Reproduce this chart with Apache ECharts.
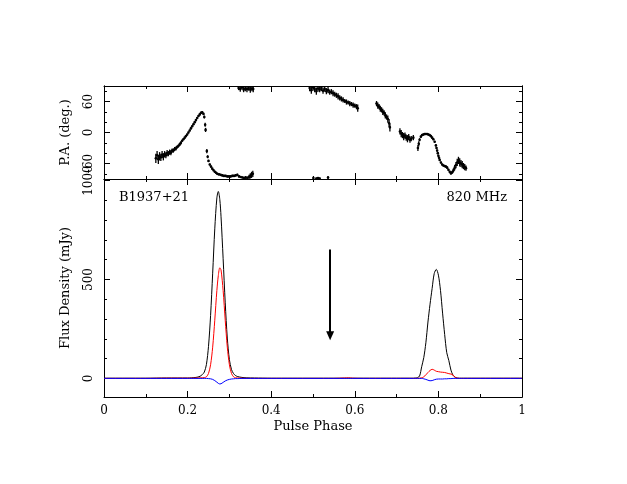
<!DOCTYPE html>
<html><head><meta charset="utf-8">
<script src="https://cdn.jsdelivr.net/npm/echarts@6/dist/echarts.min.js"></script>
<style>html,body{margin:0;padding:0;background:#fff}#c{width:627px;height:484px}</style>
</head><body><div id="c"></div>
<script>
// ---------- data ----------
const phase = [0, 0.05, 0.1, 0.15, 0.2, 0.21, 0.22, 0.225, 0.23, 0.235,
  0.24, 0.245, 0.25, 0.255, 0.26, 0.265, 0.27, 0.2735, 0.277, 0.28,
  0.285, 0.29, 0.295, 0.3, 0.305, 0.31, 0.315, 0.32, 0.33, 0.34,
  0.36, 0.4, 0.45, 0.5, 0.55, 0.575, 0.585, 0.595, 0.62, 0.65,
  0.7, 0.72, 0.74, 0.745, 0.75, 0.755, 0.76, 0.765, 0.77, 0.775,
  0.78, 0.785, 0.79, 0.795, 0.8, 0.805, 0.81, 0.815, 0.82, 0.825,
  0.83, 0.835, 0.84, 0.845, 0.85, 0.86, 0.88, 0.9, 0.95, 1];
const fluxI = [1, 1, 1, 2, 2, 3, 5, 7, 11, 19,
  32, 70, 162, 318, 532, 756, 912, 945, 905, 817,
  605, 382, 204, 95, 45, 24, 14, 9, 5, 3,
  2, 1, 1, 1, 1, 1, 1, 1, 1, 1,
  1, 1, 1, 2, 4, 12, 59, 105, 180, 285,
  375, 455, 530, 551, 522, 445, 330, 222, 130, 90,
  42, 16, 6, 2, 1, 1, 1, 1, 1, 1];
const fluxL = [0, 0, 0, 1, 1, 1, 2, 2, 3, 3,
  4, 8, 25, 69, 158, 294, 444, 520, 559, 548,
  444, 294, 158, 69, 25, 8, 3, 2, 1, 0,
  0, 0, 0, 0, 0, 2, 3, 1, 0, 0,
  0, 0, 0, 0, 0, 1, 3, 8, 18, 30,
  40, 46, 42, 36, 34, 32, 31, 30, 27, 24,
  22, 17, 5, 1, 0, 0, 0, 0, 0, 0];
const fluxV = [0, 0, 0, 0, 0, 0, 0, 0, 0, 0,
  0, 0, -1, -2, -5, -11, -19, -25, -28, -27,
  -20, -13, -8, -5, -3, -2, -1, -1, 0, 0,
  0, 0, 0, 0, 0, 0, 0, 0, 0, 0,
  0, 0, 0, 0, 0, 0, 0, -2, -5, -9,
  -12, -11, -7, -4, -3, -3, -3, -2, -2, -1,
  -1, 0, 0, 0, 0, 0, 0, 0, 0, 0];

const paPhase = [
  0.124,0.127,0.130,0.133,0.136,0.139,0.142,0.145,0.148,0.151,0.154,0.157,0.160,0.163,0.166,0.169,0.172,0.175,0.178,0.181,
  0.184,0.187,0.190,0.193,0.196,0.199,0.202,0.205,0.208,0.211,0.214,0.217,0.220,0.223,0.226,0.229,0.232,0.235,0.238,0.240,
  0.242,0.243,
  0.246,0.248,0.250,0.253,0.256,0.259,0.262,0.265,0.268,0.271,0.275,0.279,0.283,0.287,0.291,0.295,0.299,0.303,0.307,0.311,
  0.315,0.319,0.323,0.327,0.331,0.335,0.339,0.343,0.347,0.350,0.353,0.356,
  0.322,0.326,0.330,0.334,0.338,0.342,0.346,0.350,0.354,0.357,
  0.492,0.496,0.500,0.504,0.508,0.512,0.516,0.520,0.524,0.528,0.532,0.536,0.540,0.544,0.548,0.552,0.556,0.560,0.564,0.568,
  0.572,0.576,0.580,0.584,0.588,0.592,0.596,0.600,0.604,0.607,
  0.501,0.508,0.512,0.516,0.536,
  0.652,0.655,0.658,0.661,0.664,0.667,0.670,0.673,0.676,0.679,0.682,0.684,
  0.708,0.711,0.714,0.717,0.720,0.723,0.726,0.729,0.732,0.735,0.740,
  0.751,0.753,0.755,0.758,0.761,0.764,0.767,0.770,0.773,0.776,0.779,0.782,0.785,0.788,0.791,0.794,0.7955,0.797,0.7985,0.800,
  0.8015,0.803,0.806,0.809,0.812,0.815,0.818,0.821,0.824,0.827,0.830,0.833,0.836,0.839,0.842,0.845,0.848,0.851,0.854,0.857,
  0.860,0.863,0.866];
const paDeg = [
  -50,-44,-52,-46,-48,-43,-47,-42,-44,-40,-41,-38,-39,-35,-35,-32,-31,-28,-26,-23,
  -20,-16,-13,-10,-7,-4,0,4,8,12,16,20,24,28,32,35,38,39,36,30,
  15,5,
  -36,-47,-55,-62,-66,-70,-73,-76,-78,-80,-81,-82,-83,-84,-84,-85,-85,-85,-84,-84,
  -83,-82,-85,-86,-87,-88,-87,-88,-86,-84,-82,-80,
  86,84,87,83,85,84,86,83,85,84,
  86,82,87,84,80,85,83,86,81,84,80,82,78,79,76,74,72,70,67,65,
  63,61,59,58,56,55,53,52,50,47,
  -88,-89,-88,-89,-87,
  56,52,50,46,44,40,38,33,30,26,18,10,
  2,-2,-5,-8,-6,-10,-12,-9,-14,-12,-10,
  -30,-22,-14,-8,-5,-4,-3,-3,-3,-4,-5,-7,-10,-13,-18,-25,-30,-35,-40,-45,
  -49,-53,-58,-62,-64,-65,-66,-68,-72,-76,-79,-77,-73,-68,-63,-58,-54,-58,-60,-62,
  -65,-67,-69];
const paErr = [
  9,8,9,8,7,7,7,6,6,6,5,5,5,4,4,4,4,3,3,3,
  3,2,2,2,2,2,2,2,2,2,2,2,2,2,2,2,2,2,2,3,
  4,4,
  4,3,2,2,2,2,2,2,2,2,2,2,2,2,2,2,2,2,2,2,
  2,2,2,2,2,3,3,3,4,5,6,6,
  4,5,4,5,5,6,5,6,5,6,
  6,7,6,6,7,6,5,6,6,5,6,6,5,5,6,5,5,6,5,5,
  5,4,5,4,5,4,5,4,5,7,
  3,2,2,2,3,
  5,6,5,6,5,6,5,6,5,7,8,8,
  6,7,6,7,6,6,7,6,6,5,5,
  6,5,3,2,2,2,2,2,2,2,2,2,2,2,2,2,2,2,2,2,
  2,2,2,2,2,2,2,2,2,2,3,3,4,5,6,7,7,8,7,7,
  6,6,5];

const paRange = [-90, 90];
const paMajor = [-60, 0, 60];
const paMinor = [-80, -40, -20, 20, 40, 80];
const fluxRange = [-94, 1008];
const fluxMajor = [0, 500, 1000];
const fluxMinor = [100, 200, 300, 400, 600, 700, 800, 900];
const arrowPhase = 0.541, arrowTop = 652, arrowTip = 215;
const pulsarName = 'B1937+21', freqLabel = '820 MHz';

// ---------- chart ----------
const FONT = 'DejaVu Serif';
const BLK = '#000';
const chart = echarts.init(document.getElementById('c'), null, {renderer: 'canvas'});

function xAx(grid, pos, labels) {
  const a = {
    gridIndex: grid, type: 'value', min: 0, max: 1, interval: 0.2, position: pos,
    axisLine: {show: true, onZero: false, lineStyle: {color: BLK, width: 1}},
    axisTick: {show: true, inside: true, length: 6, lineStyle: {color: BLK, width: 1}},
    minorTick: {show: true, splitNumber: 2, length: 3, lineStyle: {color: BLK, width: 1}},
    axisLabel: {show: labels, margin: 8, color: BLK, fontFamily: FONT, fontSize: 12},
    splitLine: {show: false}, minorSplitLine: {show: false}
  };
  if (labels) {
    a.name = 'Pulse Phase'; a.nameLocation = 'middle'; a.nameGap = 23;
    a.nameTextStyle = {color: BLK, fontFamily: FONT, fontSize: 13};
  }
  return a;
}
function yAx(grid, pos, range, ticks, len, labels, name) {
  const a = {
    gridIndex: grid, type: 'value', min: range[0], max: range[1], position: pos,
    axisLine: {show: true, onZero: false, lineStyle: {color: BLK, width: 1}},
    axisTick: {show: true, inside: true, length: len, customValues: ticks, lineStyle: {color: BLK, width: 1}},
    axisLabel: labels ? {show: true, rotate: 90, margin: 9, customValues: ticks, color: BLK, fontFamily: FONT, fontSize: 12,
                         formatter: v => String(v)}
                      : {show: false},
    splitLine: {show: false}
  };
  if (name) {
    a.name = name; a.nameLocation = 'middle'; a.nameRotate = 90; a.nameGap = 32;
    a.nameTextStyle = {color: BLK, fontFamily: FONT, fontSize: 13};
  }
  return a;
}

const paData = paPhase.map((p, i) => [p, paDeg[i], paErr[i]]);
const pair = arr => phase.map((p, i) => [p, arr[i]]);

const option = {
  animation: false,
  backgroundColor: '#fff',
  grid: [
    {left: 104, right: 105, top: 86, height: 93},
    {left: 104, right: 105, top: 179, height: 218}
  ],
  title: [
    {text: pulsarName, left: 119, top: 191, padding: 0,
     textStyle: {color: BLK, fontFamily: FONT, fontSize: 13, fontWeight: 'normal'}},
    {text: freqLabel, right: 120, top: 191, padding: 0,
     textStyle: {color: BLK, fontFamily: FONT, fontSize: 13, fontWeight: 'normal'}}
  ],
  xAxis: [xAx(0, 'bottom', false), xAx(0, 'top', false), xAx(1, 'bottom', true), xAx(1, 'top', false)],
  yAxis: [
    yAx(0, 'left', paRange, paMajor, 6, true, 'P.A. (deg.)'),
    yAx(0, 'left', paRange, paMinor, 3, false),
    yAx(0, 'right', paRange, paMajor, 6, false),
    yAx(0, 'right', paRange, paMinor, 3, false),
    yAx(1, 'left', fluxRange, fluxMajor, 6, true, 'Flux Density (mJy)'),
    yAx(1, 'left', fluxRange, fluxMinor, 3, false),
    yAx(1, 'right', fluxRange, fluxMajor, 6, false),
    yAx(1, 'right', fluxRange, fluxMinor, 3, false)
  ],
  series: [
    {
      type: 'custom', xAxisIndex: 0, yAxisIndex: 0, data: paData,
      renderItem: function (params, api) {
        const x = api.value(0), v = api.value(1), e = api.value(2);
        const hi = Math.min(v + e, paRange[1]), lo = Math.max(v - e, paRange[0]);
        const p1 = api.coord([x, hi]), p2 = api.coord([x, lo]), pc = api.coord([x, v]);
        return {type: 'group', children: [
          {type: 'line', shape: {x1: p1[0], y1: p1[1], x2: p2[0], y2: p2[1]}, style: {stroke: BLK, lineWidth: 1.3}},
          {type: 'circle', shape: {cx: pc[0], cy: pc[1], r: 1.3}, style: {fill: BLK}}
        ]};
      }
    },
    {
      type: 'line', xAxisIndex: 2, yAxisIndex: 4, data: pair(fluxI), smooth: 0.3,
      showSymbol: false, lineStyle: {color: '#000', width: 1},
      markLine: {
        silent: true, symbol: ['none', 'triangle'], symbolSize: [8, 9],
        lineStyle: {color: BLK, width: 2, type: 'solid'}, label: {show: false},
        data: [[{coord: [arrowPhase, arrowTop]}, {coord: [arrowPhase, arrowTip]}]]
      }
    },
    {type: 'line', xAxisIndex: 2, yAxisIndex: 4, data: pair(fluxL), smooth: 0.3,
     showSymbol: false, lineStyle: {color: '#ff0000', width: 1}},
    {type: 'line', xAxisIndex: 2, yAxisIndex: 4, data: pair(fluxV), smooth: 0.3,
     showSymbol: false, lineStyle: {color: '#0000ff', width: 1}}
  ]
};
chart.setOption(option);
</script>
</body></html>
